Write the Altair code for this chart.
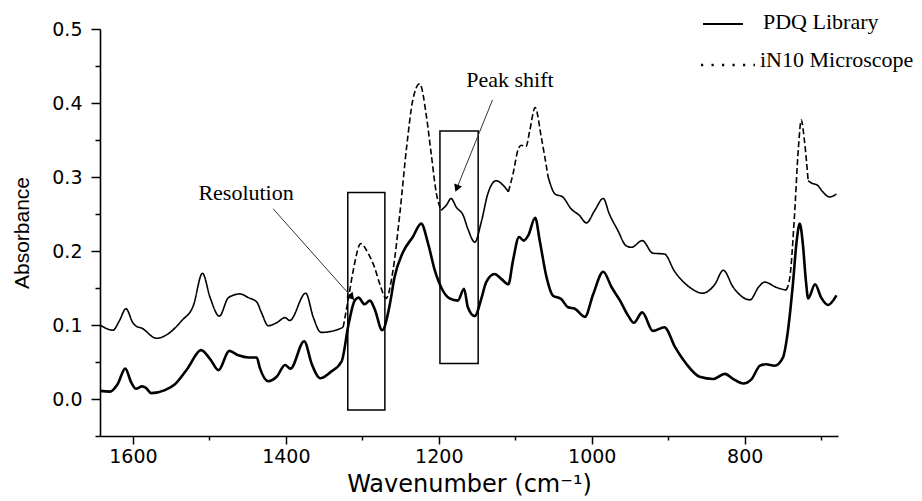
import math
import altair as alt
import pandas as pd

# ---------------- data ----------------
# PDQ Library spectrum (solid, lower trace)
pdq_wn = [1643, 1630, 1620, 1610, 1602, 1596, 1588, 1583, 1576, 1558, 1545, 1528, 1511, 1499,
          1488, 1474, 1462, 1449, 1438, 1434, 1423, 1412, 1401, 1394, 1376, 1366, 1355, 1342,
          1327, 1318, 1310, 1305, 1297, 1290, 1284, 1274, 1264, 1258, 1247, 1234, 1223, 1214,
          1205, 1196, 1186, 1175, 1167, 1162, 1153, 1144, 1138, 1127, 1118, 1109, 1103, 1095,
          1089, 1083, 1074, 1068, 1059, 1051, 1040, 1031, 1022, 1009, 998, 985, 974, 963, 952,
          945, 934, 920, 905, 891, 876, 859, 841, 826, 815, 802, 791, 780, 772, 761, 750, 744,
          737, 732, 728, 724, 720, 717, 708, 700, 691, 680]
pdq_abs = [0.011, 0.010, 0.020, 0.041, 0.022, 0.014, 0.017, 0.015, 0.008, 0.012, 0.020, 0.042,
           0.066, 0.054, 0.039, 0.065, 0.059, 0.056, 0.056, 0.042, 0.024, 0.030, 0.046, 0.041,
           0.078, 0.047, 0.028, 0.036, 0.051, 0.101, 0.133, 0.137, 0.128, 0.133, 0.122, 0.093,
           0.128, 0.164, 0.198, 0.219, 0.237, 0.210, 0.173, 0.149, 0.136, 0.133, 0.149, 0.124,
           0.112, 0.137, 0.158, 0.169, 0.162, 0.155, 0.187, 0.219, 0.214, 0.221, 0.245, 0.214,
           0.164, 0.140, 0.135, 0.124, 0.122, 0.111, 0.142, 0.172, 0.151, 0.133, 0.112, 0.103,
           0.117, 0.092, 0.097, 0.070, 0.047, 0.030, 0.027, 0.034, 0.027, 0.021, 0.027, 0.045,
           0.047, 0.045, 0.056, 0.088, 0.155, 0.214, 0.237, 0.210, 0.160, 0.136, 0.155, 0.137,
           0.127, 0.140]

# iN10 Microscope spectrum (upper trace)
in10_wn = [1643, 1626, 1618, 1609, 1600, 1595, 1589, 1569, 1554, 1536, 1521, 1509, 1499, 1487,
           1475, 1460, 1449, 1438, 1432, 1423, 1412, 1401, 1395, 1374, 1364, 1354, 1338, 1325,
           1318, 1312, 1302, 1292, 1284, 1277, 1269, 1260, 1251, 1242, 1234, 1225, 1216, 1210,
           1203, 1197, 1190, 1184, 1177, 1168, 1162, 1153, 1144, 1136, 1125, 1116, 1109, 1103,
           1096, 1092, 1086, 1081, 1074, 1066, 1057, 1048, 1038, 1027, 1016, 1007, 996, 985,
           977, 966, 955, 948, 934, 920, 905, 892, 872, 855, 839, 828, 815, 793, 782, 774, 759,
           746, 741, 735, 730, 726, 722, 717, 713, 705, 698, 689, 680]
in10_abs = [0.100, 0.093, 0.105, 0.122, 0.103, 0.098, 0.096, 0.082, 0.088, 0.106, 0.126, 0.170,
            0.137, 0.112, 0.137, 0.142, 0.137, 0.131, 0.117, 0.099, 0.103, 0.110, 0.106, 0.143,
            0.110, 0.090, 0.092, 0.097, 0.137, 0.173, 0.210, 0.196, 0.178, 0.155, 0.136, 0.173,
            0.250, 0.341, 0.404, 0.426, 0.381, 0.332, 0.277, 0.255, 0.262, 0.271, 0.259, 0.248,
            0.230, 0.212, 0.241, 0.277, 0.295, 0.289, 0.280, 0.304, 0.338, 0.343, 0.341, 0.363,
            0.394, 0.354, 0.300, 0.277, 0.273, 0.257, 0.248, 0.238, 0.255, 0.271, 0.250, 0.228,
            0.207, 0.205, 0.214, 0.197, 0.196, 0.173, 0.151, 0.143, 0.155, 0.174, 0.151, 0.134,
            0.151, 0.158, 0.151, 0.147, 0.164, 0.246, 0.336, 0.377, 0.350, 0.295, 0.292, 0.289,
            0.280, 0.273, 0.277]
# wavenumber stretches (high, low) where the iN10 trace appears dashed
in10_dashed_ranges = [(1325, 1197), (1109, 1057), (746, 717)]

# annotation boxes
box_wn1 = [1319, 1198.5]
box_wn2 = [1270.5, 1148.5]
box_abs1 = [-0.015, 0.048]
box_abs2 = [0.279, 0.362]

# annotation labels and arrows
ann_text = ["Resolution", "Peak shift"]
ann_wn = [1452, 1107]
ann_abs = [0.279, 0.431]
arrow_wn0 = [1416.6, 1129.8]
arrow_abs0 = [0.257, 0.404]
arrow_wn1 = [1313.7, 1176.5]
arrow_abs1 = [0.1375, 0.2846]

legend_labels = ["PDQ Library", "iN10 Microscope"]

x_ticks = [1600, 1500, 1400, 1300, 1200, 1100, 1000, 900, 800, 700]
y_ticks = [-0.05, 0.0, 0.05, 0.1, 0.15, 0.2, 0.25, 0.3, 0.35, 0.4, 0.45, 0.5]

# ---------------- layout ----------------
W, H = 738, 407
X_MIN, X_MAX = 678, 1643
Y_MIN, Y_MAX = -0.05, 0.5
SANS = "DejaVu Sans"
SERIF = "Liberation Serif"

x_scale = alt.Scale(domain=[X_MIN, X_MAX], reverse=True, nice=False, zero=False)
y_scale = alt.Scale(domain=[Y_MIN, Y_MAX], nice=False, zero=False)

x_axis = alt.Axis(
    values=x_ticks, format="d",
    labelExpr="datum.value % 200 == 0 ? datum.label : ''",
    tickSize={"condition": {"test": "datum.value % 200 == 0", "value": 8}, "value": 4},
    grid=False, domainColor="black", domainWidth=1.6, tickColor="black", tickWidth=1.5,
    labelFont=SANS, labelFontSize=19, labelColor="black", labelPadding=3,
    title="Wavenumber (cm\u207b\u00b9)", titleFont=SANS, titleFontSize=24,
    titleFontWeight="normal", titleColor="black", titlePadding=6,
)
y_axis = alt.Axis(
    values=y_ticks, format=".1f",
    labelExpr="abs(datum.value*10 - round(datum.value*10)) < 0.001 ? datum.label : ''",
    tickSize={"condition": {"test": "abs(datum.value*10 - round(datum.value*10)) < 0.001",
                            "value": 9}, "value": 5},
    grid=False, domainColor="black", domainWidth=1.6, tickColor="black", tickWidth=1.5,
    labelFont=SANS, labelFontSize=19, labelColor="black", labelPadding=9,
    title="Absorbance", titleFont="Liberation Sans", titleFontSize=21,
    titleFontWeight="normal", titleColor="black", titlePadding=19,
)

# ---------------- tables ----------------
pdq_df = pd.DataFrame({"wn": pdq_wn, "a": pdq_abs, "order": range(len(pdq_wn))})


def is_dashed(w):
    return any(lo <= w <= hi for hi, lo in in10_dashed_ranges)


rows = []
seg = -1
prev_style = None
for i in range(len(in10_wn) - 1):
    style = "dashed" if (is_dashed(in10_wn[i]) and is_dashed(in10_wn[i + 1])) else "solid"
    if style != prev_style:
        seg += 1
        rows.append(dict(wn=in10_wn[i], a=in10_abs[i], seg=seg, style=style, order=i))
        prev_style = style
    rows.append(dict(wn=in10_wn[i + 1], a=in10_abs[i + 1], seg=seg, style=style, order=i + 1))
in10_df = pd.DataFrame(rows)

box_df = pd.DataFrame({"x1": box_wn1, "x2": box_wn2, "y1": box_abs1, "y2": box_abs2})

sx = W / (X_MAX - X_MIN)
sy = H / (Y_MAX - Y_MIN)
angles = []
for i in range(len(arrow_wn0)):
    dx = -(arrow_wn1[i] - arrow_wn0[i]) * sx
    dy = -(arrow_abs1[i] - arrow_abs0[i]) * sy
    angles.append(math.degrees(math.atan2(dy, dx)) % 360)
arrow_df = pd.DataFrame({"x0": arrow_wn0, "y0": arrow_abs0, "x1": arrow_wn1,
                         "y1": arrow_abs1, "ang": angles})
ann_df = pd.DataFrame({"t": ann_text, "x": ann_wn, "y": ann_abs})

X = lambda f: alt.X(f, type="quantitative", scale=x_scale, axis=x_axis)
Y = lambda f: alt.Y(f, type="quantitative", scale=y_scale, axis=y_axis)

pdq_line = alt.Chart(pdq_df).mark_line(
    interpolate="monotone", color="black", strokeWidth=2.6
).encode(x=X("wn"), y=Y("a"), order="order:Q")

in10_line = alt.Chart(in10_df).mark_line(
    interpolate="monotone", color="black", strokeWidth=1.6
).encode(
    x=X("wn"), y=Y("a"), detail="seg:N", order="order:Q",
    strokeDash=alt.StrokeDash("style:N", scale=alt.Scale(domain=["solid", "dashed"],
                                                          range=[[1, 0], [6, 3]]), legend=None),
)

boxes = alt.Chart(box_df).mark_rect(
    fill="transparent", stroke="black", strokeWidth=1.5
).encode(x=X("x1"), x2="x2", y=Y("y1"), y2="y2")

arrows = alt.Chart(arrow_df).mark_rule(color="#333333", strokeWidth=1).encode(
    x=X("x0"), y=Y("y0"), x2="x1", y2="y1")
heads = alt.Chart(arrow_df).mark_point(
    shape="triangle-right", filled=True, color="black", size=70, opacity=1
).encode(x=X("x1"), y=Y("y1"), angle=alt.Angle("ang:Q", scale=None))

ann = alt.Chart(ann_df).mark_text(
    font=SERIF, fontSize=22, color="black", align="center", baseline="middle"
).encode(x=X("x"), y=Y("y"), text="t:N")

one = pd.DataFrame({"k": [0]})
leg_solid = alt.Chart(one).mark_rule(color="black", strokeWidth=2).encode(
    x=alt.value(603), x2=alt.value(643), y=alt.value(-5))
leg_dots = alt.Chart(one).mark_rule(color="black", strokeWidth=2.4, strokeDash=[2.2, 8.3]).encode(
    x=alt.value(601), x2=alt.value(655), y=alt.value(36))
leg_t1 = alt.Chart(one).mark_text(
    font=SERIF, fontSize=22, color="black", align="left", baseline="alphabetic"
).encode(x=alt.value(663), y=alt.value(0), text=alt.value(legend_labels[0]))
leg_t2 = alt.Chart(one).mark_text(
    font=SERIF, fontSize=22, color="black", align="left", baseline="alphabetic"
).encode(x=alt.value(660), y=alt.value(38), text=alt.value(legend_labels[1]))

chart = alt.layer(
    boxes, pdq_line, in10_line, arrows, heads, ann, leg_solid, leg_dots, leg_t1, leg_t2
).properties(
    width=W, height=H, autosize="none",
    padding={"left": 100, "top": 29, "right": 84, "bottom": 65},
    background="white",
).configure_view(strokeWidth=0)

chart.save("out.html", embed_options={"renderer": "svg", "actions": False})
